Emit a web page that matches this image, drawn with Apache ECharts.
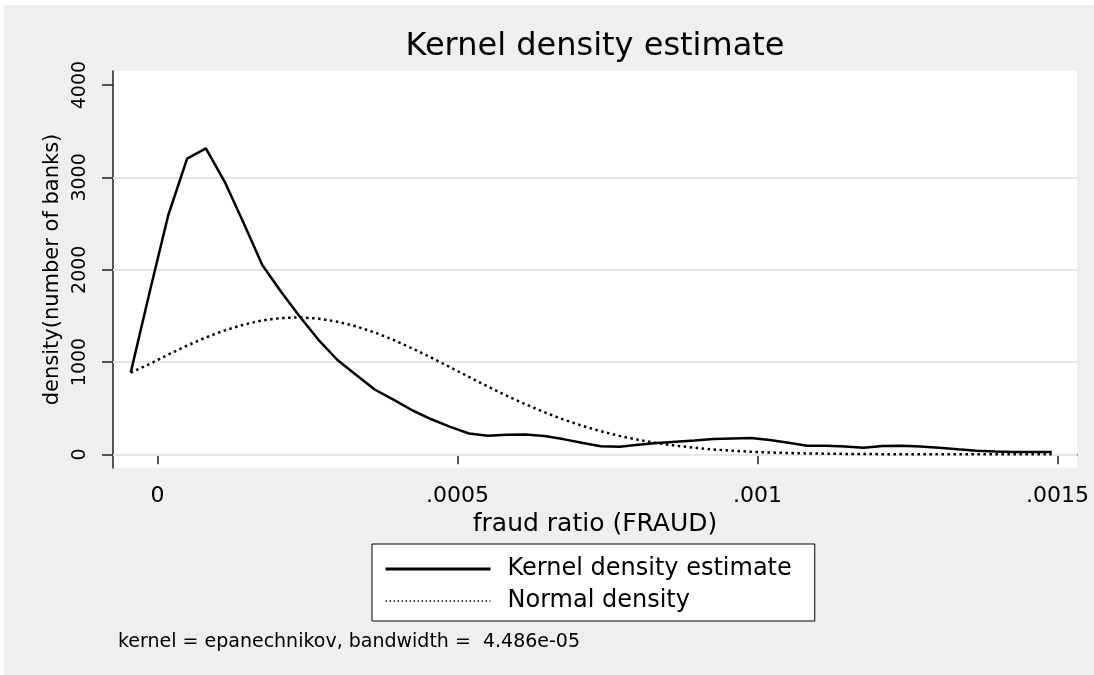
<!DOCTYPE html>
<html>
<head>
<meta charset="utf-8">
<script src="https://cdn.jsdelivr.net/npm/echarts@6/dist/echarts.min.js"></script>
<style>
  html, body { margin: 0; padding: 0; background: #ffffff; }
  #chart { position: absolute; left: 4px; top: 5px; width: 1090px; height: 670px; }
</style>
</head>
<body>
<div id="chart"></div>
<script>
// ---- data ----
const fraudGrid = [
  -0.0000447, -0.0000134, 0.0000180, 0.0000493, 0.0000806, 0.0001120, 0.0001433, 0.0001746, 0.0002059, 0.0002373,
  0.0002686, 0.0002999, 0.0003312, 0.0003626, 0.0003939, 0.0004252, 0.0004565, 0.0004879, 0.0005192, 0.0005505,
  0.0005818, 0.0006132, 0.0006445, 0.0006758, 0.0007071, 0.0007385, 0.0007698, 0.0008011, 0.0008324, 0.0008638,
  0.0008951, 0.0009264, 0.0009577, 0.0009891, 0.0010204, 0.0010517, 0.0010830, 0.0011144, 0.0011457, 0.0011770,
  0.0012083, 0.0012397, 0.0012710, 0.0013023, 0.0013336, 0.0013650, 0.0013963, 0.0014276, 0.0014589, 0.0014903
];
const kernelDensity = [
  885, 1750, 2593, 3203, 3315, 2953, 2510, 2051, 1762, 1491,
  1238, 1022, 859, 700, 590, 475, 380, 298, 226, 202,
  212, 215, 198, 165, 125, 88, 82, 105, 122, 137,
  150, 166, 172, 176, 155, 125, 93, 93, 85, 72,
  90, 92, 85, 72, 55, 40, 30, 25, 25, 25
];
const normalDensity = [
  885, 978, 1081, 1178, 1266, 1343, 1405, 1451, 1477, 1484,
  1470, 1437, 1386, 1319, 1238, 1146, 1047, 943, 838, 735,
  636, 543, 457, 379, 311, 251, 200, 158, 122, 94,
  71, 53, 39, 28, 20, 14, 10, 7, 5, 3,
  2, 1, 1, 0, 0, 0, 0, 0, 0, 0
];
const xTickValues = [0, 0.0005, 0.001, 0.0015];
const xTickLabels = ['0', '.0005', '.001', '.0015'];
const yTickValues = [0, 1000, 2000, 3000, 4000];
const yTickLabels = ['0', '1000', '2000', '3000', '4000'];
const yGridValues = [0, 1000, 2000, 3000];
const seriesNames = ['Kernel density estimate', 'Normal density'];
const titleText = 'Kernel density estimate';
const xAxisTitle = 'fraud ratio (FRAUD)';
const yAxisTitle = 'density(number of banks)';
const noteText = 'kernel = epanechnikov, bandwidth =  4.486e-05';

// ---- chart ----
const FONT = 'DejaVu Sans';
const chart = echarts.init(document.getElementById('chart'), null, { renderer: 'canvas' });

const kernelData = fraudGrid.map((x, i) => [x, kernelDensity[i]]);
const normalData = fraudGrid.map((x, i) => [x, normalDensity[i]]);

function nearestLabel(values, labels, v) {
  let best = 0;
  for (let i = 0; i < values.length; i++) {
    if (Math.abs(values[i] - v) < Math.abs(values[best] - v)) best = i;
  }
  return labels[best];
}

const option = {
  animation: false,
  backgroundColor: '#efefef',
  textStyle: { fontFamily: FONT, color: '#000' },
  title: [
    {
      text: titleText,
      left: 591, top: 26, padding: 0, textAlign: 'center',
      textStyle: { fontFamily: FONT, fontSize: 32, fontWeight: 'normal', color: '#000' }
    },
    {
      text: noteText,
      left: 114, top: 628, padding: 0,
      textStyle: { fontFamily: FONT, fontSize: 19, fontWeight: 'normal', color: '#000' }
    }
  ],
  grid: {
    left: 109, top: 66, right: 17, bottom: 207,
    show: true, backgroundColor: '#ffffff', borderWidth: 0,
    containLabel: false
  },
  xAxis: {
    type: 'value',
    min: -0.0000742, max: 0.0015325,
    name: xAxisTitle, nameLocation: 'middle', nameGap: 37,
    nameTextStyle: { fontFamily: FONT, fontSize: 25, color: '#000' },
    axisLine: { show: true, lineStyle: { color: '#222', width: 1.5 } },
    axisTick: { show: true, length: 10, customValues: xTickValues, lineStyle: { color: '#222', width: 1.5 } },
    axisLabel: {
      show: true, customValues: xTickValues, margin: 17, fontFamily: FONT, fontSize: 22, color: '#000',
      formatter: v => nearestLabel(xTickValues, xTickLabels, v)
    },
    splitLine: { show: false }
  },
  yAxis: {
    type: 'value',
    min: -148, max: 4153,
    name: yAxisTitle, nameLocation: 'middle', nameGap: 48,
    nameTextStyle: { fontFamily: FONT, fontSize: 21, color: '#000' },
    axisLine: { show: true, onZero: false, lineStyle: { color: '#222', width: 1.5 } },
    axisTick: { show: true, length: 11, customValues: yTickValues, lineStyle: { color: '#222', width: 1.5 } },
    axisLabel: {
      show: true, customValues: yTickValues, rotate: 90, margin: 23, fontFamily: FONT, fontSize: 19, color: '#000',
      formatter: v => nearestLabel(yTickValues, yTickLabels, v)
    },
    splitLine: { show: false }
  },
  legend: {
    orient: 'vertical',
    left: 368, top: 539,
    padding: [13, 23, 8, 12],
    itemWidth: 105, itemHeight: 24, itemGap: 8,
    backgroundColor: '#ffffff', borderColor: '#000', borderWidth: 1, borderRadius: 0,
    selectedMode: false,
    textStyle: { fontFamily: FONT, fontSize: 24, color: '#000', lineHeight: 24, padding: [0, 0, 0, 12] },
    data: [
      {
        name: seriesNames[0],
        itemStyle: { color: 'rgba(0,0,0,0)', borderWidth: 0, opacity: 0 },
        lineStyle: { color: '#000', width: 3, type: 'solid' }
      },
      {
        name: seriesNames[1],
        itemStyle: { color: 'rgba(0,0,0,0)', borderWidth: 0, opacity: 0 },
        lineStyle: { color: '#000', width: 1.5, type: [1.5, 2.5] }
      }
    ]
  },
  series: [
    {
      name: 'grid',
      type: 'line',
      data: [],
      silent: true,
      z: 1,
      markLine: {
        silent: true, z: 1, symbol: ['none', 'none'], animation: false,
        label: { show: false },
        lineStyle: { color: '#e6e6e6', width: 2, type: 'solid' },
        data: yGridValues.map(v => ({ yAxis: v }))
      }
    },
    {
      name: seriesNames[0],
      type: 'line',
      data: kernelData,
      showSymbol: false, symbol: 'none',
      z: 3,
      lineStyle: { color: '#000', width: 2.5, type: 'solid' },
      itemStyle: { color: '#000' }
    },
    {
      name: seriesNames[1],
      type: 'line',
      data: normalData,
      showSymbol: false, symbol: 'none',
      z: 3,
      lineStyle: { color: '#000', width: 2.5, type: [2.5, 3.5] },
      itemStyle: { color: '#000' }
    }
  ]
};
chart.setOption(option);
</script>
</body>
</html>
